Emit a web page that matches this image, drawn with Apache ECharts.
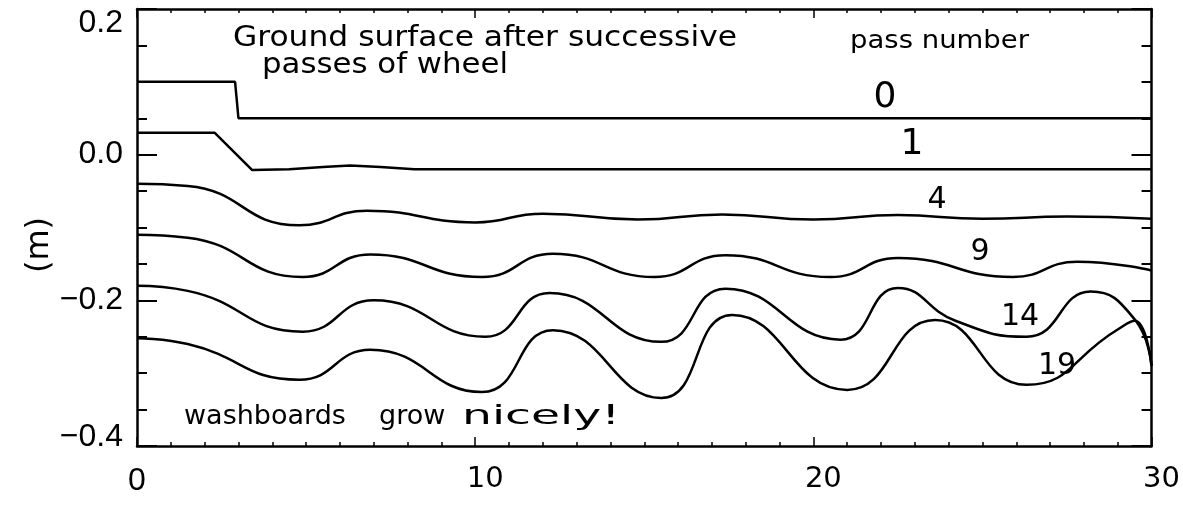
<!DOCTYPE html>
<html>
<head>
<meta charset="utf-8">
<script src="https://cdn.jsdelivr.net/npm/echarts@6/dist/echarts.min.js"></script>
<style>
  html, body { margin: 0; padding: 0; background: #fff; }
  #chart { width: 1183px; height: 509px; }
</style>
</head>
<body>
<div id="chart"></div>
<script>
// Ground profile (height in m) against distance, after successive wheel passes
const passNumbers = ['0', '1', '4', '9', '14', '19'];

const pass0 = [[0, 0.1], [2.9, 0.1], [3.0, 0.05], [30, 0.05]];
const pass1 = [[0, 0.03], [2.3, 0.03], [3.4, -0.021], [4.5, -0.02], [5.5, -0.017], [6.3, -0.015],
               [7.2, -0.017], [8.2, -0.02], [30, -0.02]];
const pass4 = [[0, -0.04], [1.5, -0.043], [4.8, -0.097], [6.8, -0.077], [10.0, -0.093],
               [12.0, -0.081], [14.8, -0.089], [17.3, -0.082], [20.0, -0.089], [22.5, -0.083],
               [25.0, -0.088], [27.5, -0.085], [30, -0.088]];
const pass9 = [[0, -0.11], [1.5, -0.114], [4.9, -0.168], [6.9, -0.137], [10.2, -0.168],
               [12.3, -0.136], [15.3, -0.168], [17.4, -0.138], [20.5, -0.168],
               [22.5, -0.142], [25.9, -0.168], [27.8, -0.147], [30, -0.159]];
const pass14 = [[0, -0.18], [1.5, -0.187], [4.9, -0.243], [7.0, -0.2], [10.3, -0.25],
                [12.2, -0.19], [15.5, -0.257], [17.4, -0.184], [20.8, -0.254],
                [22.5, -0.183], [24.2, -0.228], [26.3, -0.25], [28.2, -0.188], [29.5, -0.226], [30, -0.29]];
const pass19 = [[0, -0.252], [1.5, -0.26], [4.8, -0.309], [6.9, -0.268], [10.2, -0.326],
                [12.3, -0.241], [15.5, -0.334], [17.6, -0.22], [21.0, -0.323],
                [23.6, -0.227], [26.3, -0.316], [29.0, -0.24], [29.5, -0.228], [30, -0.29]];

const profiles = [pass0, pass1, pass4, pass9, pass14, pass19];

const xTicks = [0, 10, 20, 30];
const yTicks = [-0.4, -0.2, 0.0, 0.2];

const INK = '#000';
const TICK_FONT = 'Liberation Sans, Arial, sans-serif';
const HAND_FONT = 'DejaVu Sans, sans-serif';

const chart = echarts.init(document.getElementById('chart'), null, { renderer: 'canvas' });

function yLabel(v) {
  const s = (v < 0 ? '\u2212' : '') + Math.abs(v).toFixed(1);
  if (Math.abs(v - yTicks[yTicks.length - 1]) < 1e-9) return '{top|' + s + '}';
  if (Math.abs(v - yTicks[0]) < 1e-9) return '{bot|' + s + '}';
  return '{mid|' + s + '}';
}
function xLabel(v) {
  return v === xTicks[0] ? '{zero|' + v + '}' : '{hand|' + v + '}';
}

const labelText = { fontFamily: TICK_FONT, fontSize: 32, color: INK };

const frameAxis = {
  axisLine: { show: true, onZero: false, lineStyle: { color: INK, width: 2.5 } },
  splitLine: { show: false }
};

// handwritten-style note: (x, y) is the left end (or centre) of the text's middle line
function handText(text, x, y, size, align, stretch) {
  return {
    type: 'text', x: x, y: y, scaleX: stretch || 1,
    style: { text: text, font: size + 'px ' + HAND_FONT, fill: INK, align: align || 'left', verticalAlign: 'middle' }
  };
}

const option = {
  backgroundColor: '#fff',
  animation: false,
  grid: { left: 137, right: 30, top: 9, bottom: 63, containLabel: false },
  xAxis: [
    Object.assign({
      type: 'value', min: 0, max: 30, interval: 10, position: 'bottom',
      axisTick: { show: true, inside: true, length: 9, lineStyle: { color: INK, width: 1.5 } },
      minorTick: { show: true, splitNumber: 10, length: 4, lineStyle: { color: INK, width: 1.5 } },
      axisLabel: {
        show: true, margin: 19, formatter: xLabel,
        rich: {
          zero: Object.assign({}, labelText),
          hand: Object.assign({ padding: [0, 0, 0, 20] }, labelText, { fontFamily: HAND_FONT, fontSize: 29 })
        }
      }
    }, frameAxis),
    Object.assign({
      type: 'value', min: 0, max: 30, interval: 10, position: 'top',
      axisTick: { show: true, inside: true, length: 9, lineStyle: { color: INK, width: 1.5 } },
      minorTick: { show: true, splitNumber: 10, length: 4, lineStyle: { color: INK, width: 1.5 } },
      axisLabel: { show: false }
    }, frameAxis)
  ],
  yAxis: [
    Object.assign({
      type: 'value', min: -0.4, max: 0.2, interval: 0.2, position: 'left',
      axisTick: { show: true, inside: true, length: 20, lineStyle: { color: INK, width: 2 } },
      minorTick: { show: true, splitNumber: 4, length: 10, lineStyle: { color: INK, width: 2 } },
      axisLabel: {
        show: true, margin: 14, formatter: yLabel,
        rich: {
          top: Object.assign({ padding: [28, 0, 0, 0] }, labelText),
          mid: Object.assign({}, labelText),
          bot: Object.assign({ padding: [0, 0, 18, 0] }, labelText)
        }
      }
    }, frameAxis),
    Object.assign({
      type: 'value', min: -0.4, max: 0.2, interval: 0.2, position: 'right',
      axisTick: { show: true, inside: true, length: 20, lineStyle: { color: INK, width: 2 } },
      minorTick: { show: true, splitNumber: 4, length: 10, lineStyle: { color: INK, width: 2 } },
      axisLabel: { show: false }
    }, frameAxis)
  ],
  series: profiles.map((data, i) => ({
    name: 'pass ' + passNumbers[i],
    type: 'line',
    data: data,
    xAxisIndex: 0,
    yAxisIndex: 0,
    showSymbol: false,
    symbol: 'none',
    smooth: i >= 2 ? 0.5 : false,
    lineStyle: { color: INK, width: 2.5 },
    z: 3
  })),
  graphic: [
    handText('Ground surface after successive', 233, 38, 29, 'left', 1.08),
    handText('passes of wheel', 262, 66, 28, 'left', 1.1),
    handText('pass number', 850, 41, 25, 'left', 1.1),
    handText('washboards', 184, 417, 27),
    handText('grow', 379, 417, 27),
    handText('nicely!', 462, 417, 27, 'left', 1.75),
    {
      type: 'text', x: 40, y: 245, rotation: Math.PI / 2,
      style: { text: '(m)', font: '32px ' + HAND_FONT, fill: INK, align: 'center', verticalAlign: 'middle' }
    },
    handText(passNumbers[0], 885, 98, 36, 'center'),
    handText(passNumbers[1], 912, 145, 36, 'center'),
    handText(passNumbers[2], 937, 200, 30, 'center'),
    handText(passNumbers[3], 980, 252, 30, 'center'),
    handText(passNumbers[4], 1020, 317, 30, 'center'),
    handText(passNumbers[5], 1057, 366, 30, 'center')
  ]
};

chart.setOption(option);
</script>
</body>
</html>
